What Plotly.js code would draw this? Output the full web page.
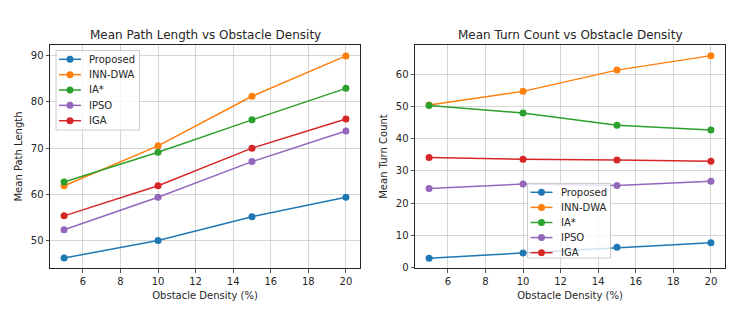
<!DOCTYPE html>
<html><head><meta charset="utf-8">
<script src="https://cdn.plot.ly/plotly-3.0.1.min.js"></script>
<style>html,body{margin:0;padding:0;background:#fff}#c{width:742px;height:314px}</style>
</head><body><div id="c"></div>
<script>
const density = [5, 10, 15, 20];
const methods = ["Proposed", "INN-DWA", "IA*", "IPSO", "IGA"];
const colors = ["#1f77b4", "#ff7f0e", "#2ca02c", "#9467bd", "#d62728"];
const pathProposed = [46.3, 50.1, 55.2, 59.4];
const pathINNDWA = [61.9, 70.5, 81.2, 89.9];
const pathIAstar = [62.7, 69.1, 76.1, 82.9];
const pathIPSO = [52.4, 59.4, 67.1, 73.7];
const pathIGA = [55.4, 61.9, 70.0, 76.3];
const turnProposed = [2.9, 4.5, 6.3, 7.7];
const turnINNDWA = [50.5, 54.7, 61.3, 65.8];
const turnIAstar = [50.3, 48.0, 44.2, 42.7];
const turnIPSO = [24.5, 25.9, 25.5, 26.8];
const turnIGA = [34.2, 33.6, 33.4, 33.0];

const pathData = [pathProposed, pathINNDWA, pathIAstar, pathIPSO, pathIGA];
const turnData = [turnProposed, turnINNDWA, turnIAstar, turnIPSO, turnIGA];

const W = 742, H = 314;
const traces = [];
methods.forEach((m, i) => {
  traces.push({x: density, y: pathData[i], name: m, mode: 'lines+markers', xaxis: 'x', yaxis: 'y',
    line: {color: colors[i], width: 1.5}, marker: {color: colors[i], size: 7}});
});
methods.forEach((m, i) => {
  traces.push({x: density, y: turnData[i], name: m, mode: 'lines+markers', xaxis: 'x2', yaxis: 'y2',
    line: {color: colors[i], width: 1.5}, marker: {color: colors[i], size: 7}});
});

const txtColor = '#262626';
const font = {family: 'DejaVu Sans', size: 10, color: txtColor};
function ax(extra) {
  return Object.assign({
    showline: true, mirror: true, linecolor: txtColor, linewidth: 1,
    ticks: 'outside', ticklen: 3.5, tickcolor: txtColor, tickwidth: 0.8,
    showgrid: true, gridcolor: '#cbcbcb', gridwidth: 0.8, zeroline: false,
    tickfont: {family: 'DejaVu Sans', size: 10, color: txtColor}
  }, extra);
}
const titleFont = {family: 'DejaVu Sans', size: 10, color: txtColor};

// custom matplotlib-style legends (pixel boxes)
const shapes = [];
const annotations = [];
function px(x) { return x / W; }
function py(y) { return 1 - y / H; }
function addLegend(bx0, by0, bx1, by1, firstY, step) {
  shapes.push({type: 'rect', xref: 'paper', yref: 'paper', x0: px(bx0), x1: px(bx1), y0: py(by1), y1: py(by0),
    fillcolor: 'rgba(255,255,255,0.8)', line: {color: '#cccccc', width: 1}});
  methods.forEach((m, i) => {
    const yy = firstY + i * step;
    const lx0 = bx0 + 3, lx1 = bx0 + 25, mx = (lx0 + lx1) / 2;
    shapes.push({type: 'line', xref: 'paper', yref: 'paper', x0: px(lx0), x1: px(lx1), y0: py(yy), y1: py(yy),
      line: {color: colors[i], width: 1.5}});
    shapes.push({type: 'circle', xref: 'paper', yref: 'paper', x0: px(mx - 3.5), x1: px(mx + 3.5), y0: py(yy + 3.5), y1: py(yy - 3.5),
      fillcolor: colors[i], line: {color: colors[i], width: 0}});
    annotations.push({text: m, xref: 'paper', yref: 'paper', x: px(bx0 + 31), y: py(yy), xanchor: 'left', yanchor: 'middle',
      showarrow: false, font: {family: 'DejaVu Sans', size: 10, color: txtColor}});
  });
}
addLegend(56, 50.5, 139.5, 130, 59.3, 15.35);
addLegend(527.5, 183.5, 610.5, 258, 192.3, 15.1);

annotations.push(
  {text: 'Mean Path Length vs Obstacle Density', xref: 'paper', yref: 'paper', x: px(205), y: py(35),
   xanchor: 'center', yanchor: 'middle', showarrow: false, font: {family: 'DejaVu Sans', size: 12, color: txtColor}},
  {text: 'Mean Turn Count vs Obstacle Density', xref: 'paper', yref: 'paper', x: px(570), y: py(35),
   xanchor: 'center', yanchor: 'middle', showarrow: false, font: {family: 'DejaVu Sans', size: 12, color: txtColor}}
);

const layout = {
  width: W, height: H, margin: {l: 0, r: 0, t: 0, b: 0},
  paper_bgcolor: '#fff', plot_bgcolor: '#fff', font: font, showlegend: false,
  xaxis: ax({domain: [px(50), px(360)], range: [4.25, 20.75], tickvals: [6, 8, 10, 12, 14, 16, 18, 20], anchor: 'y',
    title: {text: 'Obstacle Density (%)', font: titleFont, standoff: 6}}),
  yaxis: ax({domain: [py(268), py(45)], range: [44.15, 92.25], tickvals: [50, 60, 70, 80, 90], anchor: 'x',
    title: {text: 'Mean Path Length', font: titleFont, standoff: 6}}),
  xaxis2: ax({domain: [px(415), px(725)], range: [4.25, 20.75], tickvals: [6, 8, 10, 12, 14, 16, 18, 20], anchor: 'y2',
    title: {text: 'Obstacle Density (%)', font: titleFont, standoff: 6}}),
  yaxis2: ax({domain: [py(268), py(45)], range: [-0.15, 69.1], tickvals: [0, 10, 20, 30, 40, 50, 60], anchor: 'x2',
    title: {text: 'Mean Turn Count', font: titleFont, standoff: 6}}),
  shapes: shapes,
  annotations: annotations
};
Plotly.newPlot('c', traces, layout, {displayModeBar: false, staticPlot: true});
</script></body></html>
